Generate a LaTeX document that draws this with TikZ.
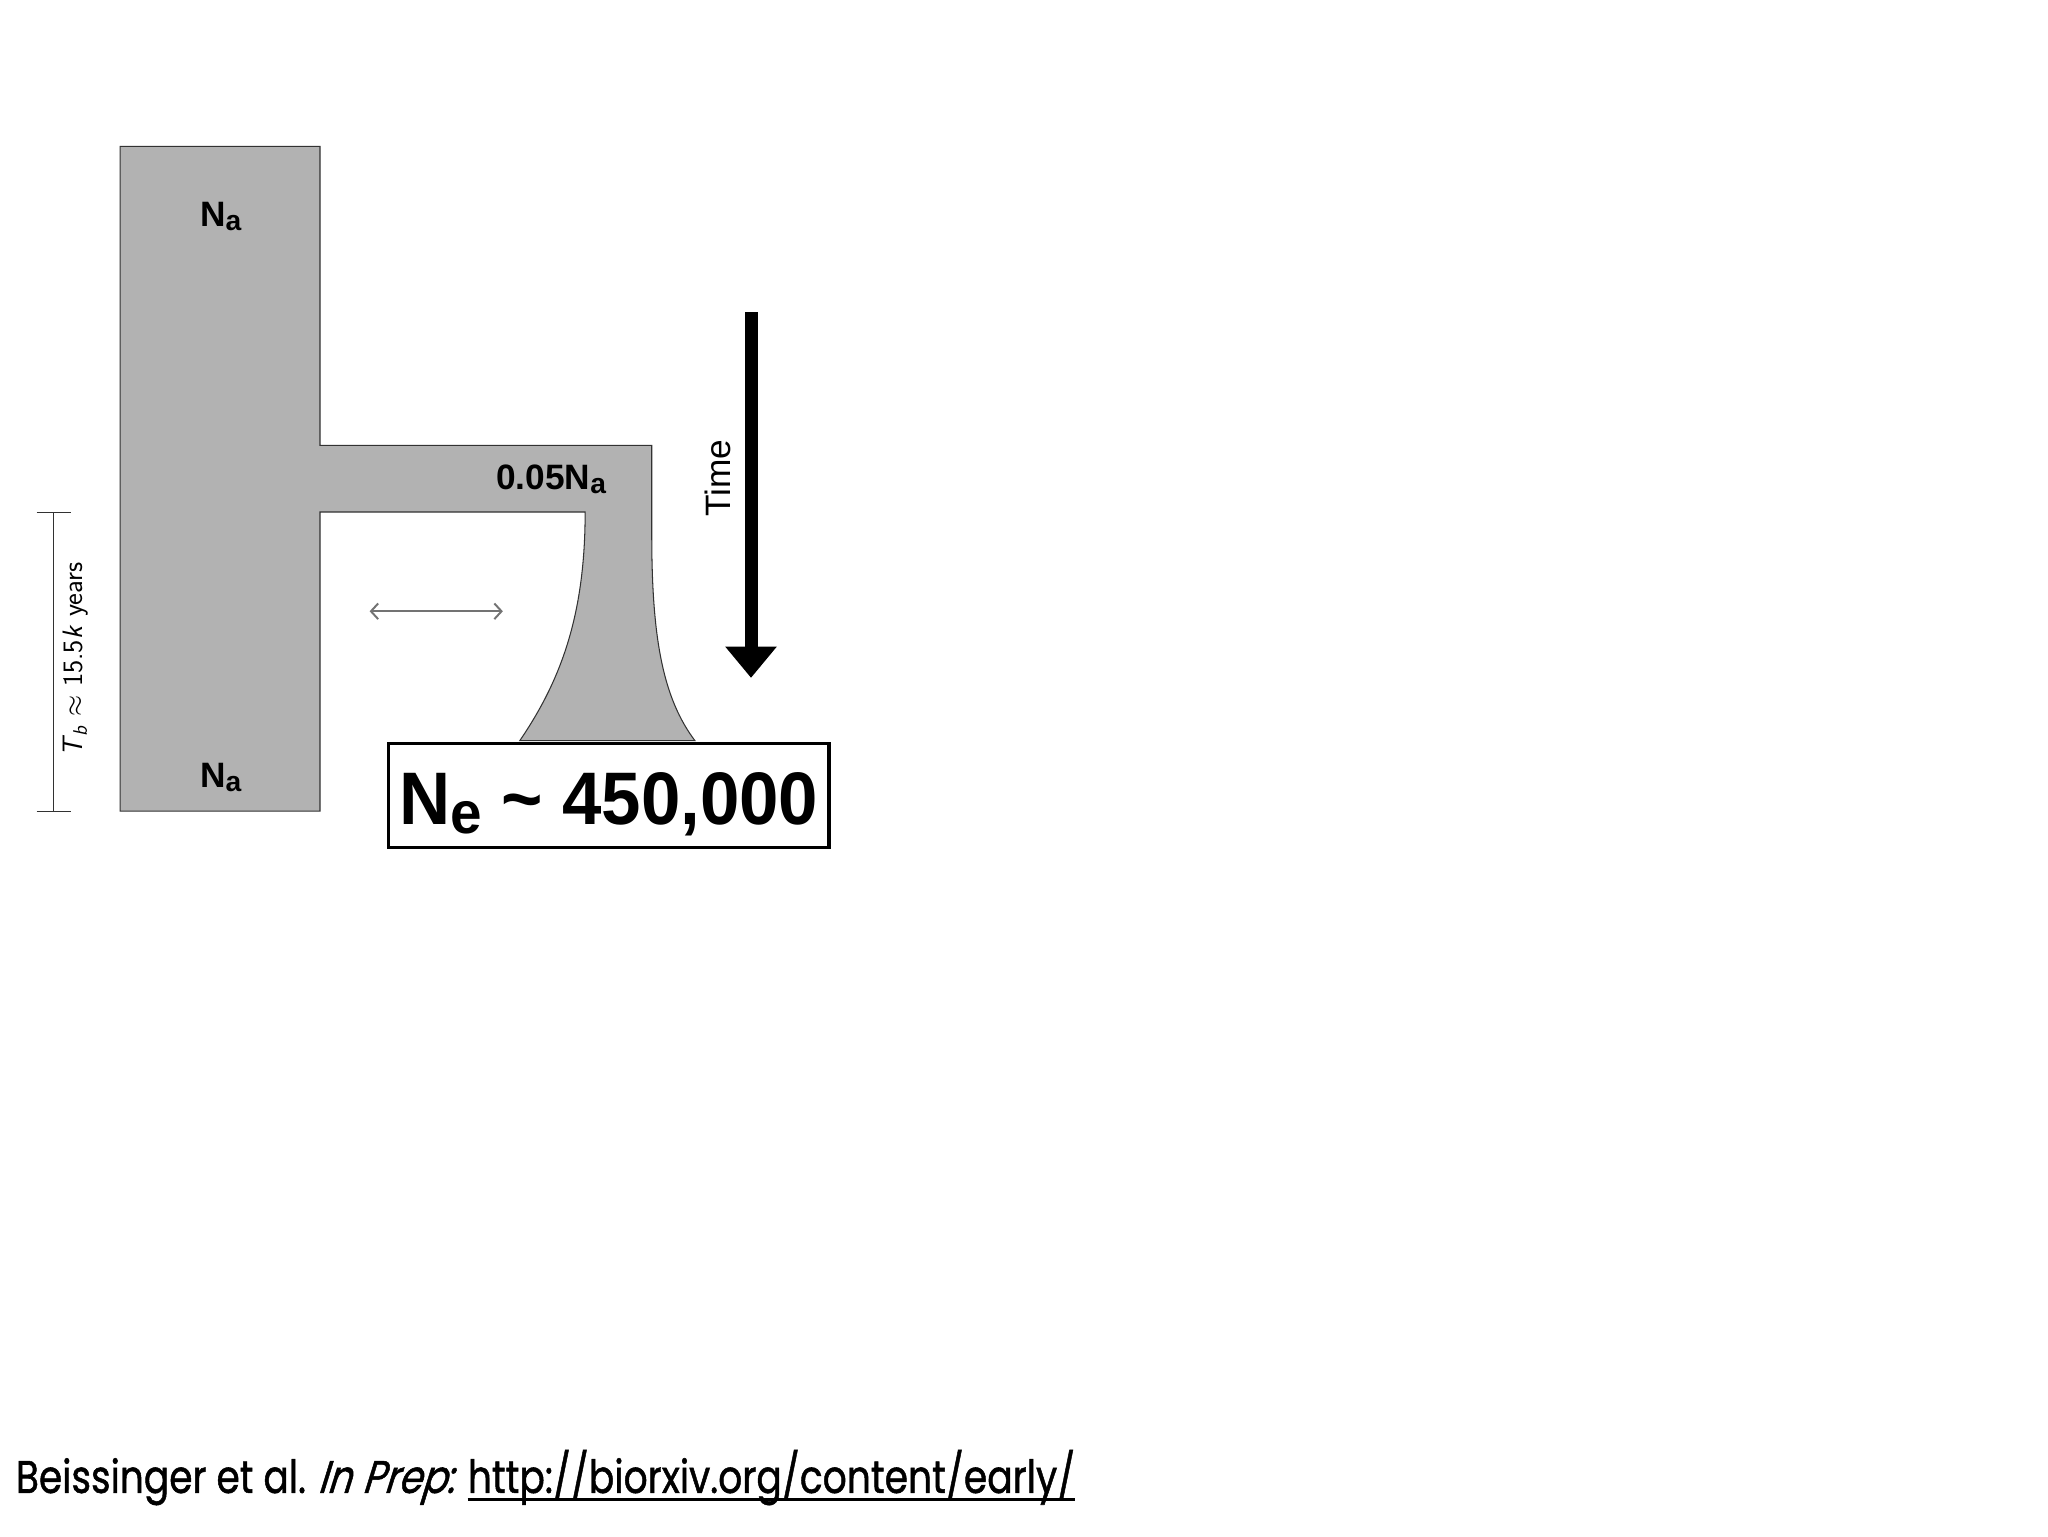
\documentclass[tikz,border=0pt]{standalone}
\usepackage{fontspec}
\setmainfont{Liberation Sans}
\newfontfamily\footfont{Poppins}[FakeBold=1.2,ItalicFeatures={FakeSlant=0.2}]
\usetikzlibrary{arrows.meta}
\definecolor{popgray}{RGB}{178,178,178}
\definecolor{edgegray}{RGB}{50,50,50}
\definecolor{migr}{RGB}{115,115,115}
\newcommand\lowsub[1]{\raisebox{-0.12em}{\scalebox{0.8}{#1}}}
\tikzset{
  poplabel/.style={font=\bfseries\fontsize{27}{27}\selectfont, inner sep=0pt},
  scalebar/.style={edgegray, line width=0.7pt},
}
\begin{document}
\begin{tikzpicture}[x=1pt,y=-1pt]
\useasboundingbox (0,0) rectangle (1568,1176);
\fill[white] (0,0) rectangle (1568,1176);
% population shape
\draw[fill=popgray, draw=edgegray, line width=0.8pt]
  (92,112) -- (245,112) -- (245,341) -- (499,341) -- (499,410)
  .. controls (499,490) and (508,535) .. (532,567) -- (398,567)
  .. controls (430,520) and (448,470) .. (448,392) -- (245,392)
  -- (245,621) -- (92,621) -- cycle;
% labels
\node[poplabel] (natop) at (169,166) {N\lowsub{a}};
\node[poplabel] (nabot) at (169,595) {N\lowsub{a}};
\node[poplabel] (nsmall) at (422,367) {0.05N\lowsub{a}};
% Ne box
\node[draw=black, fill=white, line width=2.5pt, minimum width=337.5pt, minimum height=79.5pt, inner sep=0pt, text height=50pt, text depth=6pt] (ne) at (466,609)
  {\resizebox{321pt}{\height}{\bfseries\fontsize{57}{57}\selectfont N\lowsub{e} \char"7E{} 450,000}};
% time arrow
\coordinate (ttop) at (575,239);
\coordinate (tbot) at (575,519);
\draw[line width=10pt, -{Triangle[width=38pt,length=24pt]}] (ttop) -- (tbot);
\node[rotate=90, font=\fontsize{27}{27}\selectfont, inner sep=0pt] (time) at (550,366) {Time};
% migration arrow
\coordinate (ma) at (283,468);
\coordinate (mb) at (385,468);
\draw[migr, line width=1.5pt, {Straight Barb[length=5.5pt,width=12pt]}-{Straight Barb[length=5.5pt,width=12pt]}] (ma) -- (mb);
% scale bar
\coordinate (sbt) at (41,392);
\coordinate (sbb) at (41,621);
\draw[scalebar] (sbt) -- (sbb);
\draw[scalebar] ([xshift=-13pt]sbt) -- ([xshift=13pt]sbt);
\draw[scalebar] ([xshift=-13pt]sbb) -- ([xshift=13pt]sbb);
\node[rotate=90, font=\sffamily\fontsize{21.5}{21.5}\selectfont, inner sep=0pt] (tb) at (58,505) {\textit{T}\kern-0.05em\textsubscript{\textit{b}} $\approx$ 15.5\textit{k} years};
% footer
\node[anchor=base west, inner sep=0pt] (foot) at (12,1143)
  {\resizebox{337pt}{\height}{\footfont\fontsize{35}{35}\selectfont Beissinger et al. \textit{In Prep:}}};
\node[anchor=base west, inner sep=0pt] (url) at (358,1143)
  {\resizebox{465pt}{\height}{\footfont\fontsize{35}{35}\selectfont http://biorxiv.org/content/early/}};
\draw[line width=2.8pt] ([yshift=-5pt]url.base west) -- ([yshift=-5pt]url.base east);
\end{tikzpicture}
\end{document}
